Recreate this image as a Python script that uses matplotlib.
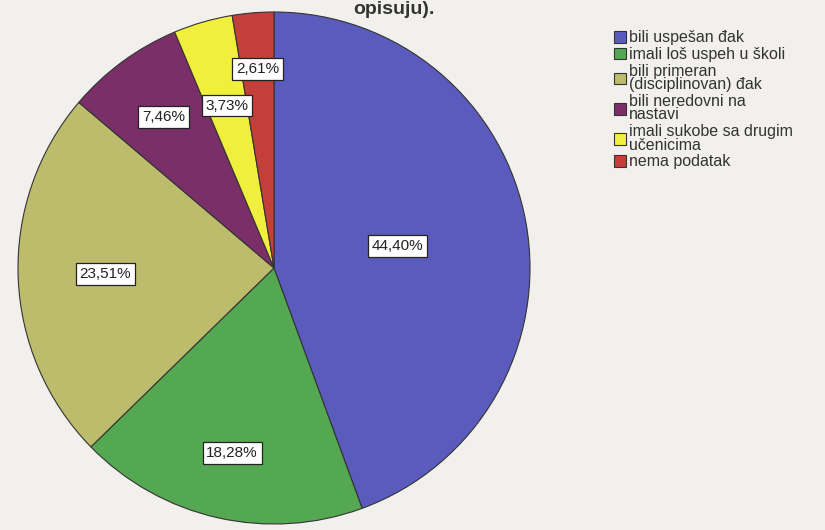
import numpy as np
import matplotlib.pyplot as plt

labels = ['bili uspešan đak', 'imali loš uspeh u školi', 'bili primeran\n(disciplinovan) đak',
          'bili neredovni na\nnastavi', 'imali sukobe sa drugim\nučenicima', 'nema podatak']
values = [44.40, 18.28, 23.51, 7.46, 3.73, 2.61]
colors = ['#5b5bbd', '#55a852', '#bcbc6c', '#7b2f68', '#f0f03c', '#c43f3a']
# radial position of each value box, as a fraction of the radius
label_r = [0.49, 0.74, 0.66, 0.73, 0.66, 0.78]

plt.rcParams['font.family'] = ['Liberation Sans', 'DejaVu Sans']

fig = plt.figure(figsize=(8.25, 5.3), dpi=100)
fig.patch.set_facecolor('#f1f0ec')
ax = fig.add_axes([0, 0, 1, 1])

cx, cy, R = 274, 262, 256
wedges, _ = ax.pie(values, colors=colors, startangle=90, counterclock=False,
                   center=(cx, cy), radius=R, frame=True,
                   wedgeprops=dict(edgecolor='#333333', linewidth=0.8))
ax.set_xlim(0, 825)
ax.set_ylim(0, 530)
ax.set_aspect('equal')
ax.axis('off')

for w, v, f in zip(wedges, values, label_r):
    ang = np.deg2rad((w.theta1 + w.theta2) / 2)
    x = cx + f * R * np.cos(ang)
    y = cy + f * R * np.sin(ang)
    ax.text(x, y, f'{v:.2f}%'.replace('.', ','), ha='center', va='center', fontsize=11,
            color='#222222',
            bbox=dict(boxstyle='square,pad=0.25', facecolor='white', edgecolor='#222222', linewidth=0.9))

leg = ax.legend(wedges, labels, loc='upper left', bbox_to_anchor=(0.737, 0.955),
                frameon=False, fontsize=11.5, handlelength=0.7, handleheight=0.75,
                handletextpad=0.2, labelspacing=0.12, borderaxespad=0)
for t in leg.get_texts():
    t.set_color('#333333')
    t.set_linespacing(0.85)

fig.text(0.478, 0.999, 'opisuju).', ha='center', va='top', fontsize=14,
         fontweight='bold', color='#333333')

fig.savefig('out.png', dpi=100, facecolor=fig.get_facecolor())
